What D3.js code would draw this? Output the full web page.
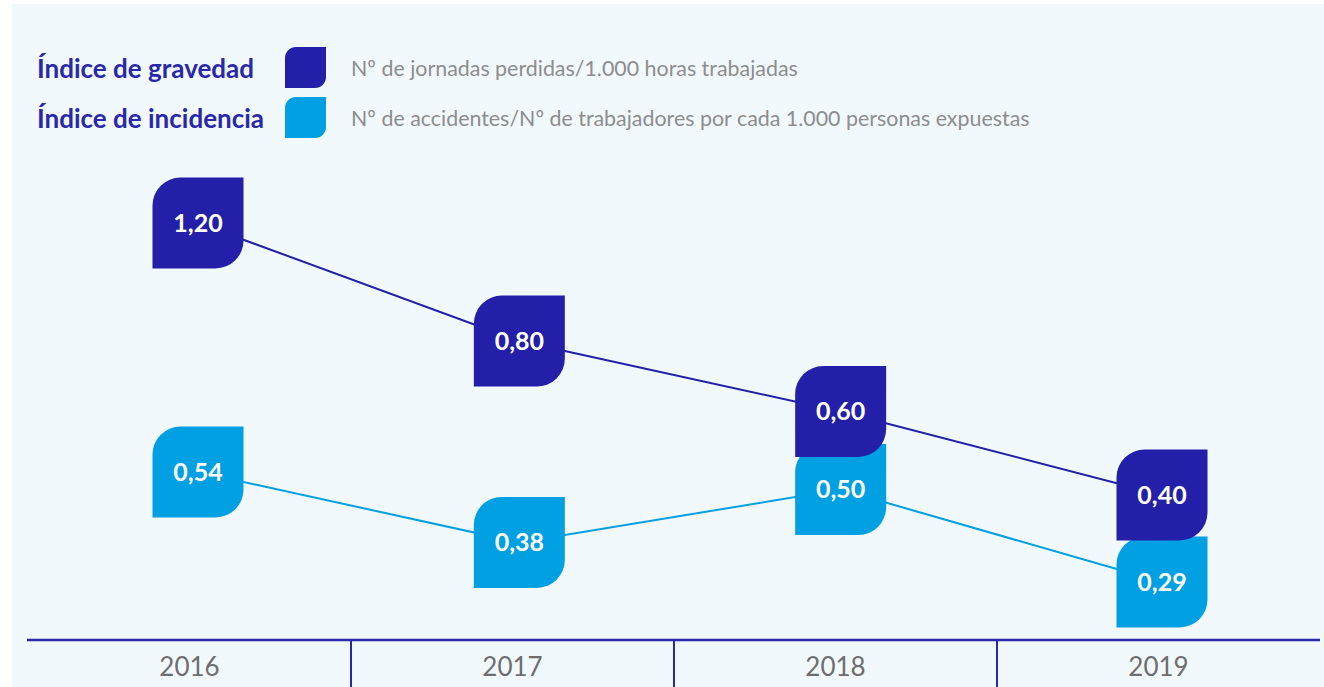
<!DOCTYPE html>
<html>
<head>
<meta charset="utf-8">
<script src="https://cdn.jsdelivr.net/npm/d3@7"></script>
<style>
  body { margin: 0; background: #fff; }
  svg { display: block; font-family: Lato, "Open Sans", sans-serif; }
</style>
</head>
<body>
<div id="chart"></div>
<script>
// data
const years = ["2016", "2017", "2018", "2019"];
const gravedad = [1.20, 0.80, 0.60, 0.40];
const incidencia = [0.54, 0.38, 0.50, 0.29];
const seriesNames = ["Índice de gravedad", "Índice de incidencia"];
const seriesNotes = [
  "Nº de jornadas perdidas/1.000 horas trabajadas",
  "Nº de accidentes/Nº de trabajadores por cada 1.000 personas expuestas"
];

const width = 1324, height = 687;
const colors = ["#231fa8", "#00a0e2"];
const fmt = v => d3.format(".2f")(v).replace(".", ",");

const svg = d3.select("#chart").append("svg")
  .attr("width", width).attr("height", height);

svg.append("rect")
  .attr("x", 12).attr("y", 4)
  .attr("width", width - 12).attr("height", height - 4)
  .attr("fill", "#f1f9fd");

// leaf shape: top-left and bottom-right corners rounded
function leaf(s, r) {
  return `M0,${r} A${r},${r} 0 0 1 ${r},0 L${s},0 L${s},${s - r}` +
    ` A${r},${r} 0 0 1 ${s - r},${s} L0,${s} Z`;
}

// legend
const legend = svg.append("g").attr("class", "legend");
seriesNames.forEach((name, i) => {
  const y = 69 + i * 50;
  legend.append("text")
    .attr("x", 37).attr("y", y)
    .attr("dy", "0.35em")
    .attr("fill", "#2a28aa")
    .attr("font-size", 26)
    .attr("font-weight", 700)
    .text(name);
  legend.append("path")
    .attr("transform", `translate(285,${y - 22})`)
    .attr("d", leaf(41, 11))
    .attr("fill", colors[i]);
  legend.append("text")
    .attr("x", 351).attr("y", y)
    .attr("dy", "0.35em")
    .attr("fill", "#8d8d8d")
    .attr("font-size", 21.4)
    .text(seriesNotes[i]);
});

// scales
const xBand = d3.scaleBand().domain(years).range([28, 1320]);
const xPoint = d3.scalePoint().domain(years).range([198, 1162]);
const yGrav = d3.scaleSqrt().domain([0.4, 1.2]).range([495, 223]);
const yInc = d3.scaleLinear().domain([0.29, 0.54]).range([582, 472]);

// axis
const axis = svg.append("g").attr("class", "xAxis");
axis.append("line")
  .attr("x1", 27).attr("x2", 1320)
  .attr("y1", 640).attr("y2", 640)
  .attr("stroke", "#2a27b0").attr("stroke-width", 2.5);
axis.selectAll(".divider")
  .data(years.slice(1))
  .enter().append("line")
  .attr("class", "divider")
  .attr("x1", d => xBand(d)).attr("x2", d => xBand(d))
  .attr("y1", 640).attr("y2", height)
  .attr("stroke", "#2a27b0").attr("stroke-width", 2);
axis.selectAll(".year")
  .data(years)
  .enter().append("text")
  .attr("class", "year")
  .attr("x", d => xBand(d) + xBand.bandwidth() / 2)
  .attr("y", 667).attr("dy", "0.35em")
  .attr("text-anchor", "middle")
  .attr("fill", "#6e6e6e")
  .attr("font-size", 26)
  .text(d => d);

// series (incidencia first so gravedad sits on top)
const series = [
  { values: incidencia, y: yInc, color: colors[1] },
  { values: gravedad, y: yGrav, color: colors[0] }
];
const size = 91, rad = 28;

series.forEach(s => {
  const pts = years.map((yr, i) => ({ x: xPoint(yr), y: s.y(s.values[i]), v: s.values[i] }));
  svg.append("path")
    .datum(pts)
    .attr("fill", "none")
    .attr("stroke", s.color)
    .attr("stroke-width", 2)
    .attr("d", d3.line().x(d => d.x).y(d => d.y));
});

series.forEach(s => {
  const pts = years.map((yr, i) => ({ x: xPoint(yr), y: s.y(s.values[i]), v: s.values[i] }));
  const g = svg.append("g").selectAll(".marker")
    .data(pts).enter().append("g")
    .attr("class", "marker")
    .attr("transform", d => `translate(${d.x},${d.y})`);
  g.append("path")
    .attr("transform", `translate(${-size / 2},${-size / 2})`)
    .attr("d", leaf(size, rad))
    .attr("fill", s.color);
  g.append("text")
    .attr("text-anchor", "middle")
    .attr("dy", "0.35em")
    .attr("fill", "#fff")
    .attr("font-size", 25)
    .attr("font-weight", 700)
    .text(d => fmt(d.v));
});
</script>
</body>
</html>
